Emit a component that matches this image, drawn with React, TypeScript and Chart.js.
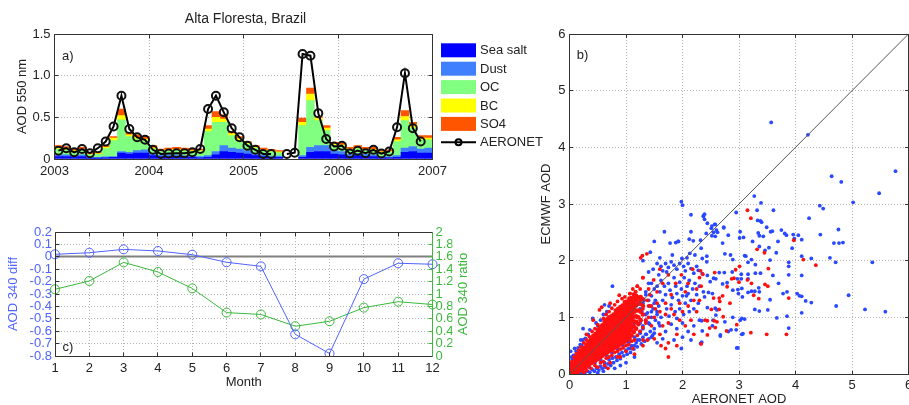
import { useEffect, useRef } from "react";
import { Chart, registerables } from "chart.js";

Chart.register(...registerables);
Chart.defaults.font.family = "'Liberation Sans', Arial, Helvetica, sans-serif";
Chart.defaults.font.size = 13;
Chart.defaults.color = "#222";

const FONT = "'Liberation Sans', Arial, Helvetica, sans-serif";

// ---------- a) Alta Floresta monthly AOD at 550 nm, Jan 2003 - Dec 2006 ----------
const startYear = 2003;
const yearTicks = [2003, 2004, 2005, 2006, 2007];
const componentNames = ["Sea salt", "Dust", "OC", "BC", "SO4"];
const componentColors = ["#0000ff", "#4080ff", "#80ff80", "#ffff00", "#ff5500"];

const seaSalt = [
  0.03, 0.03, 0.025, 0.03, 0.01, 0.01, 0.015, 0.02, 0.07, 0.06, 0.07, 0.07,
  0.04, 0.03, 0.03, 0.03, 0.025, 0.02, 0.015, 0.02, 0.05, 0.09, 0.08, 0.07,
  0.06, 0.04, 0.03, 0.02, 0.02, null, null, 0.02, 0.08, 0.09, 0.09, 0.06,
  0.05, 0.03, 0.04, 0.03, 0.03, 0.015, 0.015, 0.02, 0.08, 0.09, 0.07, 0.07,
];
const dust = [
  0.02, 0.02, 0.015, 0.02, 0.01, 0.01, 0.01, 0.01, 0.02, 0.02, 0.03, 0.04,
  0.02, 0.015, 0.02, 0.02, 0.015, 0.015, 0.015, 0.02, 0.04, 0.07, 0.05, 0.05,
  0.04, 0.03, 0.02, 0.015, 0.015, null, null, 0.02, 0.06, 0.07, 0.07, 0.04,
  0.04, 0.025, 0.025, 0.025, 0.02, 0.015, 0.01, 0.02, 0.05, 0.06, 0.05, 0.06,
];
const organicCarbon = [
  0.07, 0.06, 0.05, 0.055, 0.03, 0.035, 0.1, 0.19, 0.38, 0.19, 0.14, 0.11,
  0.06, 0.045, 0.05, 0.055, 0.055, 0.055, 0.06, 0.29, 0.35, 0.28, 0.15, 0.1,
  0.08, 0.06, 0.05, 0.05, 0.04, null, null, 0.36, 0.56, 0.3, 0.18, 0.06,
  0.065, 0.055, 0.06, 0.05, 0.055, 0.045, 0.055, 0.17, 0.33, 0.22, 0.11, 0.1,
];
const blackCarbon = [
  0.015, 0.015, 0.01, 0.01, 0.005, 0.01, 0.015, 0.03, 0.05, 0.02, 0.02, 0.02,
  0.015, 0.01, 0.01, 0.01, 0.01, 0.01, 0.01, 0.03, 0.06, 0.04, 0.025, 0.025,
  0.01, 0.01, 0.01, 0.01, 0.01, null, null, 0.04, 0.08, 0.03, 0.03, 0.015,
  0.015, 0.01, 0.01, 0.01, 0.01, 0.01, 0.01, 0.02, 0.05, 0.04, 0.02, 0.02,
];
const sulphate = [
  0.025, 0.025, 0.02, 0.025, 0.015, 0.015, 0.02, 0.02, 0.08, 0.03, 0.03, 0.03,
  0.025, 0.02, 0.02, 0.025, 0.025, 0.02, 0.02, 0.04, 0.07, 0.05, 0.025, 0.025,
  0.02, 0.02, 0.02, 0.02, 0.015, null, null, 0.05, 0.07, 0.02, 0.03, 0.025,
  0.02, 0.02, 0.025, 0.025, 0.025, 0.015, 0.02, 0.03, 0.07, 0.03, 0.03, 0.03,
];
const aeronetAod = [
  0.1, 0.13, 0.08, 0.12, 0.07, 0.13, 0.21, 0.39, 0.76, 0.36, 0.26, 0.23,
  0.11, 0.06, 0.065, 0.07, 0.07, 0.08, 0.12, 0.6, 0.76, 0.56, 0.37, 0.26,
  0.16, 0.11, 0.06, 0.06, null, 0.06, 0.075, 1.26, 1.24, 0.55, 0.24, 0.15,
  0.16, 0.065, 0.1, 0.07, 0.11, 0.065, 0.09, 0.38, 1.03, 0.37, 0.21, null,
];

// ---------- c) monthly AOD at 340 nm: model minus AERONET and ratio ----------
const monthLabels = ["1", "2", "3", "4", "5", "6", "7", "8", "9", "10", "11", "12"];
const diff340 = [0.02, 0.033, 0.06, 0.047, 0.017, -0.044, -0.077, -0.625, -0.78, -0.18, -0.052, -0.06];
const ratio340 = [1.076, 1.21, 1.51, 1.355, 1.09, 0.7, 0.67, 0.48, 0.56, 0.78, 0.876, 0.83];

// ---------- b) ECMWF vs AERONET AOD, all matched pairs ----------
const oneToOne = [0, 6];

// dense red core, listed as columns: [AERONET AOD, ECMWF AOD values]
const redCore: [number, number[]][] = [
  [0.02, [0.0, 0.05, 0.1]],
  [0.06, [0.0, 0.06, 0.12, 0.17]],
  [0.1, [0.02, 0.08, 0.14, 0.2, 0.25]],
  [0.14, [0.04, 0.1, 0.16, 0.22, 0.27, 0.31]],
  [0.18, [0.06, 0.12, 0.18, 0.24, 0.3, 0.36]],
  [0.22, [0.08, 0.14, 0.2, 0.26, 0.32, 0.37, 0.42]],
  [0.26, [0.1, 0.16, 0.22, 0.28, 0.34, 0.4, 0.46]],
  [0.3, [0.13, 0.19, 0.25, 0.31, 0.37, 0.43, 0.48, 0.52]],
  [0.34, [0.16, 0.22, 0.28, 0.34, 0.4, 0.46, 0.52, 0.57]],
  [0.38, [0.19, 0.25, 0.31, 0.37, 0.43, 0.49, 0.55, 0.61]],
  [0.42, [0.21, 0.27, 0.33, 0.39, 0.45, 0.51, 0.57, 0.62, 0.67]],
  [0.46, [0.24, 0.3, 0.36, 0.42, 0.48, 0.54, 0.6, 0.66, 0.71]],
  [0.5, [0.26, 0.32, 0.38, 0.44, 0.5, 0.56, 0.62, 0.68, 0.73, 0.78]],
  [0.54, [0.29, 0.35, 0.41, 0.47, 0.53, 0.59, 0.65, 0.71, 0.77, 0.82]],
  [0.58, [0.32, 0.38, 0.44, 0.5, 0.56, 0.62, 0.68, 0.74, 0.8, 0.86]],
  [0.62, [0.35, 0.41, 0.47, 0.53, 0.59, 0.65, 0.71, 0.77, 0.83, 0.88, 0.92]],
  [0.66, [0.37, 0.43, 0.49, 0.55, 0.61, 0.67, 0.73, 0.79, 0.85, 0.91, 0.96]],
  [0.7, [0.4, 0.46, 0.52, 0.58, 0.64, 0.7, 0.76, 0.82, 0.88, 0.94, 1.0]],
  [0.74, [0.42, 0.48, 0.54, 0.6, 0.66, 0.72, 0.78, 0.84, 0.9, 0.96, 1.02]],
  [0.78, [0.45, 0.51, 0.57, 0.63, 0.69, 0.75, 0.81, 0.87, 0.93, 0.99, 1.05]],
  [0.82, [0.47, 0.53, 0.59, 0.65, 0.71, 0.77, 0.83, 0.89, 0.95, 1.01, 1.07, 1.12]],
  [0.86, [0.5, 0.56, 0.62, 0.68, 0.74, 0.8, 0.86, 0.92, 0.98, 1.04, 1.1, 1.15]],
  [0.9, [0.52, 0.58, 0.64, 0.7, 0.76, 0.82, 0.88, 0.94, 1.0, 1.06, 1.12, 1.18]],
  [0.94, [0.55, 0.61, 0.67, 0.73, 0.79, 0.85, 0.91, 0.97, 1.03, 1.09, 1.15, 1.21]],
  [0.98, [0.57, 0.63, 0.69, 0.75, 0.81, 0.87, 0.93, 0.99, 1.05, 1.11, 1.17, 1.23, 1.27]],
  [1.02, [0.6, 0.67, 0.74, 0.8, 0.86, 0.92, 0.98, 1.04, 1.1, 1.16, 1.22, 1.28]],
  [1.06, [0.63, 0.71, 0.78, 0.85, 0.91, 0.97, 1.03, 1.09, 1.15, 1.21, 1.27, 1.33]],
  [1.1, [0.68, 0.77, 0.85, 0.92, 0.99, 1.06, 1.13, 1.2, 1.27, 1.34]],
  [1.14, [0.74, 0.84, 0.93, 1.01, 1.09, 1.17, 1.25, 1.33, 1.4]],
  [1.18, [0.8, 0.92, 1.02, 1.12, 1.21, 1.3, 1.38]],
  [1.22, [0.88, 1.0, 1.12, 1.24, 1.35]],
  [1.26, [0.95, 1.1, 1.24, 1.36]],
  [1.3, [1.05, 1.2, 1.32]],
];

// remaining points as flat [x, y, x, y, ...] lists
const redFringe = [
  0.02, 0.16, 0.04, 0.22, 0.08, 0.3, 0.12, 0.36, 0.16, 0.42, 0.2, 0.48, 0.25, 0.55, 0.3, 0.6,
  0.35, 0.66, 0.4, 0.75, 0.45, 0.8, 0.5, 0.87, 0.53, 1.13, 0.57, 1.18, 0.6, 0.98, 0.65, 1.05,
  0.7, 1.1, 0.75, 1.16, 0.8, 1.22, 0.85, 1.28, 0.88, 1.39, 0.98, 1.36, 0.93, 1.33, 1.07, 1.42,
  1.17, 1.45, 0.42, 0.95, 0.3, 0.7, 0.72, 1.25, 1.12, 1.5, 1.2, 1.55, 1.3, 1.7, 1.25, 1.5,
  0.15, 0.0, 0.25, 0.03, 0.3, 0.06, 0.38, 0.1, 0.45, 0.15, 0.5, 0.12, 0.55, 0.2, 0.6, 0.22,
  0.65, 0.28, 0.7, 0.3, 0.75, 0.33, 0.8, 0.38, 0.85, 0.4, 0.9, 0.44, 0.95, 0.46, 1.0, 0.5,
  1.05, 0.52, 1.1, 0.58, 1.15, 0.6, 1.2, 0.68, 1.25, 0.75, 1.3, 0.82, 0.62, 0.15, 0.72, 0.2,
  0.9, 0.3, 1.0, 0.4, 1.12, 0.45, 1.3, 0.6, 1.35, 0.9, 1.4, 1.0, 1.45, 1.2, 1.38, 1.3,
  0.85, 0.3, 0.68, 0.1,
];
const redMid = [
  1.07, 1.42, 1.17, 1.45, 1.29, 2.09, 1.37, 2.12, 1.49, 1.66, 1.26, 2.05, 1.2, 1.55, 1.3, 1.7,
  1.4, 1.5, 1.55, 1.45, 1.65, 1.6, 1.7, 1.25, 1.8, 1.4, 1.85, 1.05, 1.95, 1.25, 2.05, 1.45,
  2.1, 1.6, 2.2, 1.3, 2.25, 1.1, 2.15, 0.95, 2.05, 0.85, 1.9, 0.7, 1.75, 0.9, 1.6, 0.7,
  1.5, 1.0, 1.45, 0.85, 1.35, 0.95, 1.3, 1.15, 1.25, 1.3, 1.4, 1.2, 1.55, 1.25, 1.6, 1.1,
  1.7, 1.05, 1.8, 1.15, 1.95, 0.95, 2.0, 1.1, 2.1, 1.2, 1.38, 0.6, 1.5, 0.62, 1.62, 0.5,
  1.75, 0.55, 1.9, 0.5, 1.3, 0.5, 2.2, 0.7, 2.25, 1.5, 2.3, 1.3, 2.18, 1.85, 1.98, 1.75,
  1.88, 1.6, 1.75, 1.75, 1.6, 1.85, 2.3, 1.7, 1.75, 0.3, 1.7, 0.45, 1.15, 0.35, 1.42, 1.4,
  1.52, 1.15, 1.65, 0.85,
];
const redFar = [
  3.15, 2.89, 3.21, 2.75, 3.32, 2.2, 3.45, 2.14, 3.97, 2.36, 4.14, 2.02, 4.36, 1.92, 3.52, 1.86,
  3.01, 1.9, 2.94, 1.84, 3.0, 1.62, 3.15, 1.66, 3.22, 1.6, 3.46, 1.58, 3.51, 1.55, 3.26, 1.39,
  3.35, 1.33, 3.88, 1.34, 2.84, 1.25, 2.79, 1.54, 2.71, 1.38, 2.65, 1.34, 2.55, 1.34, 2.66, 1.28,
  2.51, 1.14, 2.65, 1.14, 2.72, 1.01, 2.44, 0.94, 2.4, 0.95, 2.56, 0.94, 2.61, 0.92, 2.48, 0.81,
  2.58, 0.82, 2.78, 0.76, 2.96, 0.87, 2.44, 0.69, 3.21, 0.73, 3.49, 0.7, 3.84, 0.7, 2.87, 1.68,
  2.91, 1.69, 2.57, 1.79, 2.33, 1.55, 2.32, 1.82, 2.36, 1.76, 2.33, 0.53,
];
const blueNear = [
  0.01, 0.14, 0.03, 0.2, 0.05, 0.26, 0.07, 0.33, 0.1, 0.3, 0.12, 0.4, 0.15, 0.46, 0.09, 0.45,
  0.19, 0.52, 0.22, 0.5, 0.24, 0.6, 0.28, 0.63, 0.24, 0.8, 0.33, 0.7, 0.41, 0.98, 0.36, 0.78,
  0.47, 0.9, 0.55, 0.95, 0.62, 1.22, 0.66, 1.1, 0.76, 1.55, 0.7, 1.2, 0.6, 1.05, 0.5, 0.85,
  0.2, 0.6, 0.04, 0.3, 0.02, 0.4,
  0.05, 0.0, 0.1, 0.0, 0.14, 0.01, 0.2, 0.0, 0.22, 0.03, 0.27, 0.02, 0.32, 0.05, 0.36, 0.03,
  0.4, 0.08, 0.44, 0.05, 0.48, 0.1, 0.52, 0.07, 0.55, 0.14, 0.58, 0.1, 0.62, 0.2, 0.64, 0.12,
  0.68, 0.18, 0.7, 0.25, 0.73, 0.15, 0.76, 0.28, 0.78, 0.2, 0.82, 0.3, 0.84, 0.24, 0.88, 0.35,
  0.9, 0.27, 0.93, 0.38, 0.96, 0.32, 1.0, 0.42, 1.02, 0.35, 1.05, 0.45, 1.08, 0.38, 1.1, 0.5,
  1.14, 0.44, 1.18, 0.55, 1.2, 0.48, 1.24, 0.6, 1.27, 0.53, 1.3, 0.65, 1.33, 0.58, 1.36, 0.7,
  1.4, 0.62, 1.43, 0.75, 1.47, 0.68, 1.5, 0.72, 0.35, 0.12, 0.45, 0.2, 0.55, 0.26, 0.65, 0.33,
  0.75, 0.38, 0.85, 0.45, 0.95, 0.5, 1.05, 0.58, 1.15, 0.65, 1.25, 0.72, 0.6, 0.05, 0.8, 0.1,
  1.0, 0.2, 1.15, 0.3, 0.9, 0.15, 0.5, 0.02,
  1.3, 0.8, 1.35, 0.95, 1.38, 1.08, 1.42, 0.88, 1.45, 1.0, 1.48, 1.15, 1.52, 0.95, 1.55, 1.1,
  1.58, 0.9, 1.32, 1.3, 1.35, 1.45, 1.4, 1.6, 1.45, 1.38, 1.5, 1.25, 1.25, 0.9, 1.2, 1.0,
  1.28, 1.1, 1.22, 1.25, 1.15, 0.9, 1.1, 0.8,
];
const blueMid = [
  1.3, 2.0, 1.43, 2.15, 1.5, 2.34, 1.68, 2.51, 1.78, 2.31, 1.88, 2.32, 1.93, 2.34, 1.98, 3.04,
  2.0, 2.98, 2.15, 2.81, 2.37, 2.79, 2.39, 2.73, 2.58, 2.64, 2.51, 2.57, 2.55, 2.5, 2.73, 2.58,
  2.42, 2.48, 2.32, 2.36, 2.15, 2.51, 1.92, 2.34, 2.12, 2.38, 2.19, 2.35, 2.33, 2.22, 2.13, 2.13,
  1.99, 2.04, 1.55, 1.95, 1.62, 1.9, 1.7, 1.95, 1.75, 1.88, 1.8, 1.98, 1.85, 1.92, 1.9, 1.85,
  1.95, 1.95, 2.02, 1.9, 2.05, 1.82, 2.1, 1.95, 2.15, 1.86, 2.2, 1.78, 2.25, 1.9, 2.28, 1.83,
  1.65, 1.82, 1.72, 1.8, 1.58, 1.75, 1.48, 1.85, 1.4, 1.8, 1.6, 2.05, 2.08, 2.05, 1.82, 2.1,
  2.22, 2.1,
  1.45, 1.6, 1.5, 1.5, 1.55, 1.55, 1.6, 1.45, 1.62, 1.65, 1.68, 1.55, 1.7, 1.4, 1.75, 1.6,
  1.78, 1.48, 1.82, 1.35, 1.85, 1.7, 1.88, 1.55, 1.9, 1.42, 1.93, 1.3, 1.95, 1.62, 1.98, 1.5,
  2.0, 1.38, 2.03, 1.7, 2.05, 1.25, 2.08, 1.55, 2.1, 1.42, 2.12, 1.65, 2.15, 1.3, 2.18, 1.5,
  2.2, 1.15, 2.22, 1.6, 2.25, 1.4, 2.28, 1.25, 2.3, 1.55, 2.07, 1.38, 1.4, 1.3, 1.35, 1.4,
  1.42, 1.2, 1.52, 1.3, 1.58, 1.2, 1.65, 1.3, 1.72, 1.15, 1.8, 1.22, 1.87, 1.1, 1.95, 1.15,
  2.02, 1.05, 2.12, 1.1, 1.3, 1.25, 1.25, 1.15, 1.35, 1.05, 1.45, 1.1, 1.55, 1.05, 1.62, 1.0,
  1.76, 1.02, 1.9, 0.98,
  1.3, 0.85, 1.4, 0.9, 1.5, 0.8, 1.6, 0.85, 1.7, 0.75, 1.8, 0.88, 1.9, 0.8, 2.0, 0.9,
  2.1, 0.75, 2.2, 0.85, 2.3, 0.95, 2.0, 0.65, 2.15, 0.6, 2.32, 0.54, 1.98, 0.45, 1.85, 0.6,
  1.65, 0.62, 1.45, 0.65, 1.55, 0.55, 2.54, 0.95, 2.67, 0.69, 2.81, 0.75, 3.05, 0.7, 2.98, 0.46,
  1.35, 0.7, 1.25, 0.75, 1.2, 0.6, 1.15, 0.5, 1.1, 0.45, 1.05, 0.55,
];
const blueFar = [
  3.57, 4.44, 4.22, 4.22, 4.64, 3.49, 4.81, 3.39, 5.77, 3.58, 5.48, 3.19, 5.02, 3.03, 4.43, 2.97,
  4.49, 2.92, 3.27, 3.14, 3.39, 3.02, 3.32, 2.89, 3.61, 2.89, 2.95, 2.85, 4.24, 2.75, 4.44, 2.46,
  4.76, 2.55, 4.68, 2.31, 4.77, 2.31, 4.84, 2.32, 4.61, 2.05, 4.71, 1.97, 5.36, 1.97, 4.94, 1.39,
  4.72, 1.2, 5.23, 1.14, 5.59, 1.1, 4.28, 1.26, 4.18, 1.29, 4.11, 1.37, 4.07, 1.38, 4.03, 1.42,
  4.11, 1.08, 4.11, 1.74, 4.11, 2.08, 4.28, 2.04, 3.88, 1.97, 3.88, 1.9, 3.88, 1.75, 3.85, 1.45,
  3.78, 1.42, 3.85, 1.02, 3.88, 0.81, 3.67, 0.99, 3.7, 1.6, 3.66, 2.14, 3.69, 2.34, 3.75, 2.54,
  3.84, 2.45, 3.81, 2.48, 3.96, 2.46, 4.05, 2.45, 3.98, 2.39, 3.94, 2.22, 4.11, 2.37, 3.59, 2.52,
  3.56, 2.51, 3.49, 2.59, 3.38, 2.7, 3.33, 2.71, 3.4, 2.68, 3.34, 2.49, 3.36, 2.44, 3.43, 2.43,
  3.24, 2.34, 3.02, 2.51, 3.01, 2.4, 3.08, 2.41, 2.81, 2.45, 2.73, 2.59, 2.57, 2.64, 2.6, 2.54,
  2.52, 2.44, 2.58, 2.43, 2.62, 2.5, 2.44, 2.66, 2.52, 2.61, 2.37, 2.78, 2.39, 2.82, 2.71, 2.31,
  3.36, 2.25, 3.53, 2.23, 3.46, 2.18, 3.55, 2.01, 3.22, 2.02, 3.12, 2.08, 3.1, 2.09, 3.16, 1.97,
  2.85, 2.1, 2.75, 2.12, 2.89, 2.02, 2.43, 2.08, 2.35, 2.04, 2.43, 1.98, 3.29, 1.93, 3.6, 1.74,
  3.38, 1.78, 3.29, 1.78, 3.04, 1.76, 3.16, 1.76, 3.16, 1.68, 3.04, 1.68, 2.97, 1.68, 2.88, 1.8,
  2.74, 1.79, 2.65, 1.79, 2.59, 1.68, 2.55, 1.69, 2.44, 1.74, 2.35, 1.77, 2.49, 1.63, 3.35, 1.52,
  3.28, 1.46, 3.22, 1.46, 3.16, 1.44, 3.36, 1.45, 3.05, 1.51, 2.98, 1.49, 2.99, 1.42, 3.06, 1.36,
  2.89, 1.48, 2.79, 1.61, 2.71, 1.59, 2.37, 1.45, 2.46, 1.44, 2.39, 1.36, 2.53, 1.42, 3.28, 1.14,
  3.36, 1.11, 3.51, 1.13, 3.55, 1.31, 3.1, 0.97, 3.02, 0.95, 3.05, 0.98, 2.89, 1.0, 2.58, 1.16,
  2.61, 1.13, 2.44, 1.17, 2.34, 0.94, 2.53, 0.85, 2.75, 0.92, 2.86, 0.78, 2.95, 0.78, 3.07, 0.71,
  2.67, 0.67, 2.96, 0.46, 2.35, 0.76, 2.34, 0.56, 2.59, 1.04,
];

const BLUE_DOT = "#2a48ff";
const RED_DOT = "#ff1010";
const DIFF_BLUE = "#4f63ff";
const RATIO_GREEN = "#3cb83c";
const GRID = "#b4b4b4";
const FRAME = "#333333";

function pairs(flat: number[]) {
  const out: { x: number; y: number }[] = [];
  for (let i = 0; i < flat.length; i += 2) out.push({ x: flat[i], y: flat[i + 1] });
  return out;
}
function columns(cols: [number, number[]][]) {
  const out: { x: number; y: number }[] = [];
  for (const [x, ys] of cols) for (const y of ys) out.push({ x, y });
  return out;
}

// axes box, inward tick marks, reference lines and free text
const framePlugin: any = {
  id: "frame",
  beforeDatasetsDraw(chart: any, _a: any, opts: any) {
    const { ctx, chartArea: a } = chart;
    for (const h of opts.hLines || []) {
      const y = Math.floor(chart.scales[h.scale].getPixelForValue(h.value)) + 0.5;
      ctx.save();
      ctx.strokeStyle = h.color;
      ctx.lineWidth = h.width;
      ctx.beginPath();
      ctx.moveTo(a.left, y);
      ctx.lineTo(a.right, y);
      ctx.stroke();
      ctx.restore();
    }
  },
  afterDatasetsDraw(chart: any, _a: any, opts: any) {
    const { ctx, chartArea: a } = chart;
    const L = Math.floor(a.left) + 0.5;
    const R = Math.floor(a.right) + 0.5;
    const T = Math.floor(a.top) + 0.5;
    const B = Math.floor(a.bottom) + 0.5;
    const len = opts.tickLen ?? 4;
    ctx.save();
    ctx.lineWidth = 1;
    for (const s of Object.values(chart.scales) as any[]) {
      ctx.strokeStyle = (opts.tickColors && opts.tickColors[s.id]) || FRAME;
      s.ticks.forEach((_t: any, i: number) => {
        const p = Math.floor(s.getPixelForTick(i)) + 0.5;
        ctx.beginPath();
        if (s.isHorizontal()) {
          ctx.moveTo(p, B);
          ctx.lineTo(p, B - len);
          ctx.moveTo(p, T);
          ctx.lineTo(p, T + len);
        } else if (s.position === "left") {
          ctx.moveTo(L, p);
          ctx.lineTo(L + len, p);
          if (opts.mirrorY) {
            ctx.moveTo(R, p);
            ctx.lineTo(R - len, p);
          }
        } else {
          ctx.moveTo(R, p);
          ctx.lineTo(R - len, p);
        }
        ctx.stroke();
      });
    }
    ctx.strokeStyle = FRAME;
    ctx.beginPath();
    ctx.moveTo(R, T);
    ctx.lineTo(L, T);
    ctx.lineTo(L, B);
    ctx.lineTo(R, B);
    ctx.stroke();
    ctx.strokeStyle = opts.rightColor || FRAME;
    ctx.beginPath();
    ctx.moveTo(R, T);
    ctx.lineTo(R, B);
    ctx.stroke();
    ctx.restore();
  },
  afterDraw(chart: any, _a: any, opts: any) {
    const { ctx, chartArea: a } = chart;
    for (const t of opts.texts || []) {
      const x =
        (t.ax === "right" ? a.right : t.ax === "center" ? (a.left + a.right) / 2 : a.left) + t.dx;
      const y =
        (t.ay === "bottom" ? a.bottom : t.ay === "middle" ? (a.top + a.bottom) / 2 : t.ay === "canvas" ? 0 : a.top) +
        t.dy;
      ctx.save();
      ctx.font = `${t.size || 13}px ${FONT}`;
      ctx.fillStyle = t.color || "#222";
      ctx.textAlign = t.align || "left";
      ctx.textBaseline = "middle";
      ctx.translate(x, y);
      if (t.rotate) ctx.rotate(t.rotate);
      ctx.fillText(t.text, 0, 0);
      ctx.restore();
    }
  },
};

// legend to the right of panel a
const sideLegendPlugin: any = {
  id: "sideLegend",
  afterDraw(chart: any, _a: any, opts: any) {
    const { ctx, chartArea: a } = chart;
    const x0 = a.right + opts.gap;
    ctx.save();
    chart.data.datasets.forEach((ds: any, i: number) => {
      const cy = opts.top + i * opts.row;
      if (ds.type === "line") {
        ctx.strokeStyle = ds.borderColor;
        ctx.lineWidth = 2;
        ctx.beginPath();
        ctx.moveTo(x0, cy);
        ctx.lineTo(x0 + opts.boxW, cy);
        ctx.stroke();
        ctx.beginPath();
        ctx.arc(x0 + opts.boxW / 2, cy, 3, 0, Math.PI * 2);
        ctx.stroke();
      } else {
        ctx.fillStyle = ds.backgroundColor;
        ctx.fillRect(x0, cy - opts.boxH / 2, opts.boxW, opts.boxH);
      }
      ctx.fillStyle = "#222";
      ctx.font = `13px ${FONT}`;
      ctx.textBaseline = "middle";
      ctx.textAlign = "left";
      ctx.fillText(ds.label, x0 + opts.boxW + 4, cy + 0.5);
    });
    ctx.restore();
  },
};

const dotted = { display: false, dash: [1, 2] };

function makeTimeSeries(canvas: HTMLCanvasElement) {
  const xAt = (i: number) => startYear + (i + 0.5) / 12;
  const parts = [seaSalt, dust, organicCarbon, blackCarbon, sulphate];
  const bars = parts.map((vals, k) => ({
    type: "bar",
    label: componentNames[k],
    data: vals.map((v, i) => ({ x: xAt(i), y: v })),
    backgroundColor: componentColors[k],
    borderWidth: 0,
    stack: "aod",
    order: 1,
    barPercentage: 1,
    categoryPercentage: 1,
  }));
  return new Chart(canvas, {
    type: "bar",
    data: {
      datasets: [
        ...bars,
        {
          type: "line",
          label: "AERONET",
          data: aeronetAod.map((v, i) => ({ x: xAt(i), y: v })),
          borderColor: "#000",
          borderWidth: 2,
          pointRadius: 4,
          pointBorderWidth: 2,
          pointBorderColor: "#111",
          pointBackgroundColor: "rgba(0,0,0,0)",
          spanGaps: false,
          order: 0,
        },
      ],
    } as any,
    options: {
      animation: false,
      responsive: false,
      layout: { padding: { top: 34, right: 127.5, left: 0, bottom: 0 } },
      plugins: {
        legend: { display: false },
        tooltip: { enabled: false },
        frame: {
          mirrorY: true,
          texts: [
            { text: "Alta Floresta, Brazil", ax: "center", dx: 2, ay: "canvas", dy: 19, align: "center", size: 14 },
            { text: "a)", ax: "left", dx: 7.5, ay: "top", dy: 22 },
          ],
        },
        sideLegend: { gap: 8.5, top: 50.3, row: 18.4, boxW: 35, boxH: 14 },
      } as any,
      scales: {
        x: {
          type: "linear",
          min: yearTicks[0],
          max: yearTicks[yearTicks.length - 1],
          offset: false,
          afterBuildTicks: (s: any) => {
            s.ticks = yearTicks.map((v) => ({ value: v }));
          },
          ticks: { padding: 5, callback: (v: any) => String(v), color: "#222" },
          grid: { color: GRID, drawTicks: false, offset: false },
          border: dotted,
          afterFit: (s: any) => {
            s.height = 26;
          },
        },
        y: {
          stacked: true,
          min: 0,
          max: 1.5,
          ticks: { stepSize: 0.5, padding: 4, color: "#222" },
          grid: { color: GRID, drawTicks: false },
          border: dotted,
          title: { display: true, text: "AOD 550 nm", padding: { top: 14.7, bottom: 0 }, color: "#222" },
          afterFit: (s: any) => {
            s.width = 54.5;
          },
        },
      },
    } as any,
    plugins: [framePlugin, sideLegendPlugin],
  });
}

function makeScatter(canvas: HTMLCanvasElement) {
  return new Chart(canvas, {
    type: "scatter",
    data: {
      datasets: [
        {
          type: "line",
          data: oneToOne.map((v) => ({ x: v, y: v })),
          borderColor: "#555",
          borderWidth: 1,
          pointRadius: 0,
          order: -1,
        },
        { data: columns(redCore), backgroundColor: RED_DOT, pointRadius: 2.3, borderWidth: 0, order: 0 },
        {
          data: [...pairs(redFringe), ...pairs(redMid), ...pairs(redFar)],
          backgroundColor: RED_DOT,
          pointRadius: 1.9,
          borderWidth: 0,
          order: 1,
        },
        {
          data: [...pairs(blueNear), ...pairs(blueMid), ...pairs(blueFar)],
          backgroundColor: BLUE_DOT,
          pointRadius: 1.9,
          borderWidth: 0,
          order: 2,
        },
      ],
    } as any,
    options: {
      animation: false,
      responsive: false,
      layout: { padding: { top: 34, right: 11.5, left: 0, bottom: 0 } },
      plugins: {
        legend: { display: false },
        tooltip: { enabled: false },
        frame: {
          mirrorY: true,
          tickLen: 3.5,
          texts: [{ text: "b)", ax: "left", dx: 7.2, ay: "top", dy: 21 }],
        },
      } as any,
      scales: {
        x: {
          type: "linear",
          min: 0,
          max: 6,
          ticks: { stepSize: 1, padding: 3.2, color: "#222" },
          grid: { color: GRID, drawTicks: false },
          border: dotted,
          title: { display: true, text: "AERONET AOD", padding: { top: 0, bottom: 5.2 }, color: "#222" },
          afterFit: (s: any) => {
            s.height = 38;
          },
        },
        y: {
          type: "linear",
          min: 0,
          max: 6,
          ticks: { stepSize: 1, padding: 4, color: "#222" },
          grid: { color: GRID, drawTicks: false },
          border: dotted,
          title: { display: true, text: "ECMWF AOD", padding: { top: 18.7, bottom: 0 }, color: "#222" },
          afterFit: (s: any) => {
            s.width = 49.5;
          },
        },
      },
    } as any,
    plugins: [framePlugin],
  });
}

function makeSeasonal(canvas: HTMLCanvasElement) {
  const fmt = (v: any) => String(Math.round(Number(v) * 10) / 10);
  return new Chart(canvas, {
    type: "line",
    data: {
      labels: monthLabels,
      datasets: [
        {
          label: "AOD 340 diff",
          data: diff340,
          yAxisID: "y",
          borderColor: DIFF_BLUE,
          borderWidth: 1,
          pointRadius: 4.5,
          pointBorderWidth: 1,
          pointBorderColor: DIFF_BLUE,
          pointBackgroundColor: "rgba(0,0,0,0)",
        },
        {
          label: "AOD 340 ratio",
          data: ratio340,
          yAxisID: "y2",
          borderColor: RATIO_GREEN,
          borderWidth: 1,
          pointRadius: 4.5,
          pointBorderWidth: 1,
          pointBorderColor: RATIO_GREEN,
          pointBackgroundColor: "rgba(0,0,0,0)",
        },
      ],
    },
    options: {
      animation: false,
      responsive: false,
      layout: { padding: { top: 32, right: 22.5, left: 0, bottom: 0 } },
      plugins: {
        legend: { display: false },
        tooltip: { enabled: false },
        frame: {
          rightColor: RATIO_GREEN,
          tickColors: { y: FRAME, y2: RATIO_GREEN },
          hLines: [{ scale: "y", value: 0, color: "#808080", width: 2 }],
          texts: [
            { text: "c)", ax: "left", dx: 7.5, ay: "bottom", dy: -8.5 },
            {
              text: "AOD 340 ratio",
              ax: "right",
              dx: 30.5,
              ay: "middle",
              dy: 0,
              align: "center",
              rotate: -Math.PI / 2,
              color: RATIO_GREEN,
            },
          ],
        },
      } as any,
      scales: {
        x: {
          type: "category",
          offset: false,
          ticks: { padding: 4.2, color: "#222", autoSkip: false, maxRotation: 0 },
          grid: { color: GRID, drawTicks: false },
          border: dotted,
          title: { display: true, text: "Month", padding: { top: 0, bottom: 15.2 }, color: "#222" },
          afterFit: (s: any) => {
            s.height = 49;
          },
        },
        y: {
          position: "left",
          min: -0.8,
          max: 0.2,
          ticks: { stepSize: 0.1, padding: 3, color: DIFF_BLUE, callback: fmt, autoSkip: false },
          grid: { color: GRID, drawTicks: false },
          border: dotted,
          title: { display: true, text: "AOD 340 diff", padding: { top: 5.5, bottom: 0 }, color: DIFF_BLUE },
          afterFit: (s: any) => {
            s.width = 55;
          },
        },
        y2: {
          position: "right",
          min: 0,
          max: 2,
          ticks: { stepSize: 0.2, padding: 3, color: RATIO_GREEN, callback: fmt, autoSkip: false },
          grid: { display: false, drawTicks: false },
          border: { display: false },
          afterFit: (s: any) => {
            s.width = 20;
          },
        },
      },
    } as any,
    plugins: [framePlugin],
  });
}

export default function App() {
  const aRef = useRef<HTMLCanvasElement>(null);
  const bRef = useRef<HTMLCanvasElement>(null);
  const cRef = useRef<HTMLCanvasElement>(null);

  useEffect(() => {
    const charts = [
      makeTimeSeries(aRef.current!),
      makeSeasonal(cRef.current!),
      makeScatter(bRef.current!),
    ];
    return () => charts.forEach((c) => c.destroy());
  }, []);

  return (
    <div
      style={{
        position: "fixed",
        left: 0,
        top: 0,
        width: 909,
        height: 405,
        overflow: "hidden",
        background: "#fff",
      }}
    >
      <canvas ref={aRef} width={560} height={185} style={{ position: "absolute", left: 0, top: 0 }} />
      <canvas ref={cRef} width={475} height={205} style={{ position: "absolute", left: 0, top: 200 }} />
      <canvas ref={bRef} width={400} height={412} style={{ position: "absolute", left: 520, top: 0 }} />
    </div>
  );
}
